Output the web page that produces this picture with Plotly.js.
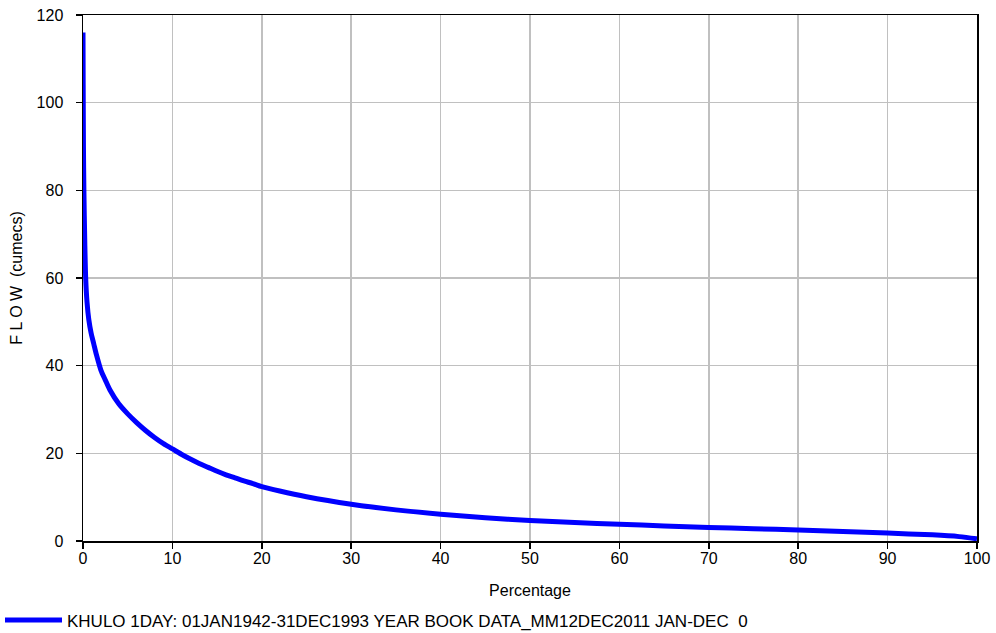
<!DOCTYPE html>
<html>
<head>
<meta charset="utf-8">
<script src="https://cdn.plot.ly/plotly-3.0.1.min.js"></script>
<style>
html,body{margin:0;padding:0;background:#fff;}
#chart{width:996px;height:633px;}
</style>
</head>
<body>
<div id="chart"></div>
<script>
const seriesName = "KHULO 1DAY: 01JAN1942-31DEC1993 YEAR BOOK DATA_MM12DEC2011 JAN-DEC  0";
const percentage = [0, 0.02, 0.05, 0.1, 0.2, 0.3, 0.45, 0.65, 0.9, 1.2, 1.5, 2, 2.5, 3, 4, 5, 6, 7, 8, 9, 10, 11, 12, 13, 14, 15, 16, 17, 18, 19, 20, 22, 25, 30, 35, 40, 45, 50, 55, 60, 65, 70, 75, 80, 85, 90, 95, 98, 100];
const flow = [116, 104, 90, 80, 68, 60, 54.5, 50.5, 47.5, 45, 42.5, 39, 36.7, 34.5, 31.3, 29, 27, 25.2, 23.6, 22.2, 21, 19.8, 18.7, 17.7, 16.8, 15.9, 15.1, 14.4, 13.7, 13.1, 12.4, 11.4, 10.1, 8.4, 7.1, 6.1, 5.3, 4.7, 4.2, 3.8, 3.45, 3.1, 2.8, 2.5, 2.15, 1.8, 1.4, 1.0, 0.5];
const xTicks = [0, 10, 20, 30, 40, 50, 60, 70, 80, 90, 100];
const yTicks = [0, 20, 40, 60, 80, 100, 120];

const font = {family: "Liberation Sans, Arial, sans-serif", size: 16, color: "#000"};
const legendFont = {family: "Liberation Sans, Arial, sans-serif", size: 17, color: "#000"};

const trace = {
  x: percentage, y: flow, type: "scatter", mode: "lines", name: seriesName,
  line: {color: "#0000ff", width: 5, shape: "spline", smoothing: 0.8}
};

const axisCommon = {
  showline: true, linecolor: "#000", linewidth: 1.5, mirror: true,
  ticks: "outside", ticklen: 6, tickcolor: "#000", tickwidth: 1.5,
  showgrid: true, gridcolor: "#c0c0c0", gridwidth: 1.5,
  zeroline: false, tickfont: font
};

const layout = {
  width: 996, height: 633,
  margin: {l: 83, r: 19, t: 15, b: 92},
  paper_bgcolor: "#fff", plot_bgcolor: "#fff",
  font: font,
  showlegend: true,
  legend: {x: -0.005, xref: "container", y: 0.02, yref: "container", yanchor: "middle", xanchor: "left",
           orientation: "h", font: legendFont, itemwidth: 57, bgcolor: "rgba(0,0,0,0)", tracegroupgap: 0},
  xaxis: Object.assign({}, axisCommon, {
    range: [0, 100], tickvals: xTicks, ticklabelstandoff: -4,
    title: {text: "Percentage", font: font, standoff: 19}
  }),
  yaxis: Object.assign({}, axisCommon, {
    range: [0, 120], tickvals: yTicks, ticklabelstandoff: 9,
    title: {text: "F L O W  (cumecs)", font: font, standoff: 10}
  })
};

Plotly.newPlot("chart", [trace], layout, {displayModeBar: false, staticPlot: true});
</script>
</body>
</html>
